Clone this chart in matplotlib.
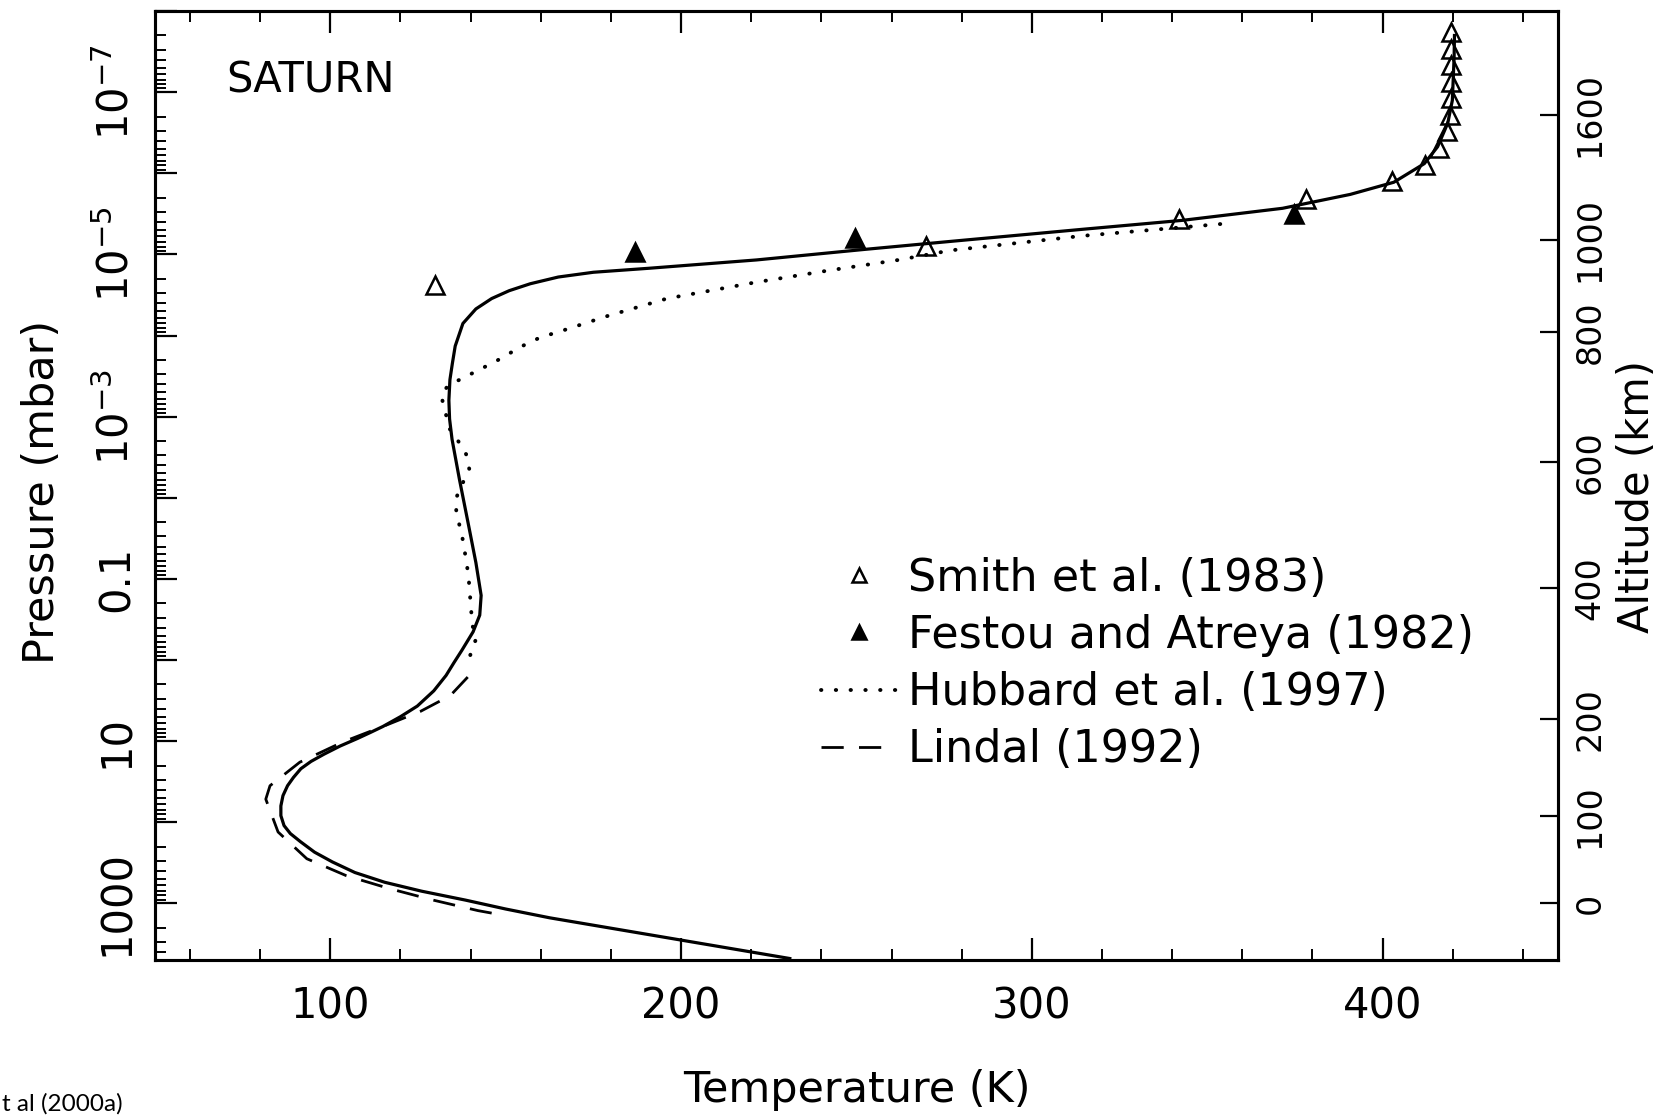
import matplotlib
matplotlib.use("Agg")
import matplotlib.pyplot as plt
from matplotlib.ticker import (FixedLocator, FixedFormatter, FuncFormatter,
                               LogLocator, MultipleLocator, NullFormatter, NullLocator)

# model temperature profile (solid line), T in K, P in mbar
model_temp = [231, 162.6, 150, 138.5, 126, 115.5, 107, 100.6, 95.5, 91.5, 88.6, 86.8,
              85.9, 85.9, 86.5, 87.8, 89.5, 91.6, 94.5, 98.2, 102.8, 107.7, 111.5, 115,
              120, 124.8, 129.5, 133, 135.3, 137.5, 140.7, 142.6, 143.0, 141.5, 139.6,
              136.8, 134.7, 134.0, 133.8, 134.1, 134.8, 135.6, 137.8, 141.5, 146, 151,
              157, 165, 175, 191, 221.5, 252, 277, 314.5, 343, 371.5, 390.8, 403.2,
              411.9, 415.7, 418.6, 419.9, 420.4, 420.5]
model_pres = [4790, 1510, 1175, 912, 708, 550, 417, 309, 234, 174, 138, 110,
              83, 63, 47, 35.5, 28, 21.9, 17.8, 14.5, 11.5, 9.3, 7.8, 6.6,
              5.0, 3.7, 2.4, 1.55, 1.07, 0.76, 0.45, 0.28, 0.16, 0.063, 0.024,
              5.9e-3, 1.9e-3, 1.07e-3, 6.3e-4, 3.5e-4, 2.2e-4, 1.35e-4, 7.1e-5, 4.7e-5,
              3.5e-5, 2.8e-5, 2.3e-5, 1.9e-5, 1.66e-5, 1.48e-5, 1.17e-5, 8.7e-6, 6.9e-6,
              4.9e-6, 3.8e-6, 2.7e-6, 1.82e-6, 1.29e-6, 7.6e-7, 4.7e-7, 2.4e-7, 1.26e-7,
              3.7e-8, 2.0e-8]

# Hubbard et al. (1997)
hubbard_temp = [139.9, 141.6, 140.4, 140.1, 139.7, 139.4, 138.7, 138.0, 137.1, 135.9,
                135.9, 137.6, 139.6, 138.7, 136.3, 134.0, 131.6, 133.6, 137.5, 142, 147,
                151.5, 156, 160, 165.5, 178.7, 196, 221.5, 242, 262, 277, 314.5, 354.4]
hubbard_pres = [0.87, 0.54, 0.36, 0.22, 0.14, 0.091, 0.059, 0.037, 0.024, 0.0158,
                0.0100, 6.8e-3, 4.4e-3, 2.9e-3, 1.95e-3, 1.41e-3, 5.5e-4, 4.1e-4, 3.4e-4,
                2.7e-4, 2.1e-4, 1.62e-4, 1.26e-4, 1.05e-4, 8.9e-5, 5.8e-5, 3.5e-5, 2.2e-5,
                1.58e-5, 1.17e-5, 8.9e-6, 5.9e-6, 4.2e-6]

# Lindal (1992)
lindal_temp = [146, 142.1, 129.3, 117, 104.6, 93.3, 85.1, 81.6, 82.8, 91.3, 103.7,
               115, 125.7, 134.2, 141.8]
lindal_pres = [1320, 1230, 912, 661, 457, 282, 132, 52, 35.5, 18.2, 10.2,
               6.6, 4.3, 2.75, 1.23]

# Smith et al. (1983), open triangles
smith_temp = [129.9, 269.8, 342, 378.3, 402.8, 412.0, 416.2, 418.5, 419.1, 419.6,
              419.6, 419.6, 419.6, 419.6]
smith_pres = [2.4e-5, 7.9e-6, 3.7e-6, 2.1e-6, 1.26e-6, 7.8e-7, 4.9e-7, 3.0e-7, 1.9e-7,
              1.17e-7, 7.4e-8, 4.6e-8, 2.9e-8, 1.8e-8]

# Festou and Atreya (1982), filled triangles
festou_temp = [187, 249.6, 374.8]
festou_pres = [9.3e-6, 6.2e-6, 3.2e-6]

# altitude scale on the right
altitude_km = ["0", "100", "200", "400", "600", "800", "1000", "1600"]
altitude_pres = [1000, 85, 5.4, 0.13, 3.6e-3, 9e-5, 6.6e-6, 1.9e-7]

pres_labels = {-7: r"$10^{-7}$", -5: r"$10^{-5}$", -3: r"$10^{-3}$",
               -1: "0.1", 1: "10", 3: "1000"}

plt.rcParams["font.family"] = ["DejaVu Sans"]
plt.rcParams["mathtext.fontset"] = "dejavusans"

fig = plt.figure(figsize=(16.77, 11.18), dpi=100)
ax = fig.add_axes([0.0924, 0.1413, 0.8366, 0.8488])

ax.plot(model_temp, model_pres, color="black", lw=2.3)
hub, = ax.plot(hubbard_temp, hubbard_pres, color="black", lw=2.8,
               linestyle=(0, (0.1, 3.7)), dash_capstyle="round", label="Hubbard et al. (1997)")
lin, = ax.plot(lindal_temp, lindal_pres, color="black", lw=2.0,
               linestyle=(0, (8, 5.5)), label="Lindal (1992)")
smi, = ax.plot(smith_temp, smith_pres, ls="none", marker="^", ms=13, mfc="none",
               mec="black", mew=1.8, label="Smith et al. (1983)")
fes, = ax.plot(festou_temp, festou_pres, ls="none", marker="^", ms=13, mfc="black",
               mec="black", mew=1.8, label="Festou and Atreya (1982)")

ax.set_yscale("log")
ax.set_xlim(50, 450)
ax.set_ylim(5000, 1e-8)

ax.xaxis.set_major_locator(MultipleLocator(100))
ax.xaxis.set_minor_locator(MultipleLocator(20))
ax.yaxis.set_major_locator(LogLocator(base=10, numticks=30))
ax.yaxis.set_minor_locator(LogLocator(base=10, subs=range(2, 10), numticks=30))
ax.yaxis.set_minor_formatter(NullFormatter())


def pres_fmt(v, pos):
    import math
    e = int(round(math.log10(v)))
    return pres_labels.get(e, "")


ax.yaxis.set_major_formatter(FuncFormatter(pres_fmt))

ax.tick_params(which="major", direction="in", length=16, width=1.6, top=True, right=False)
ax.tick_params(which="minor", direction="in", length=8, width=1.4, top=True, right=False)
ax.tick_params(axis="x", labelsize=30, pad=18)
ax.tick_params(axis="y", labelsize=30, pad=19)

ax2 = ax.twinx()
ax2.set_yscale("log")
ax2.set_ylim(ax.get_ylim())
ax2.yaxis.set_major_locator(FixedLocator(altitude_pres))
ax2.yaxis.set_major_formatter(FixedFormatter(altitude_km))
ax2.yaxis.set_minor_locator(NullLocator())
ax2.tick_params(axis="y", direction="in", length=13, width=1.6, labelsize=24, pad=30)

for a in (ax, ax2):
    for s in a.spines.values():
        s.set_linewidth(2.2)

ax.set_xlabel("Temperature (K)", fontsize=31, labelpad=30)
ax.set_ylabel("Pressure (mbar)", fontsize=31)
ax.yaxis.set_label_coords(-0.0656, 0.493)
ax2.set_ylabel("Altitude (km)", fontsize=30)
ax2.yaxis.set_label_coords(1.0413, 0.488)

ax.text(0.051, 0.914, "SATURN", transform=ax.transAxes, fontsize=30, va="baseline")

ax2.legend(handles=[smi, fes, hub, lin], loc="upper left", bbox_to_anchor=(0.475, 0.425),
           frameon=False, fontsize=32, handlelength=1.68, handletextpad=0.28,
           labelspacing=0.32, borderpad=0, borderaxespad=0, markerscale=0.75)

fig.text(0.001, 0.013, "t al (2000a)", fontsize=17.5, family=["Lato", "DejaVu Sans"], va="center")

# rotate pressure / altitude tick labels like the original
for lab in ax.get_yticklabels() + ax2.get_yticklabels():
    lab.set_rotation(90)
    lab.set_rotation_mode("anchor")
    lab.set_horizontalalignment("center")
    lab.set_verticalalignment("baseline")

fig.savefig("out.png", dpi=100)
